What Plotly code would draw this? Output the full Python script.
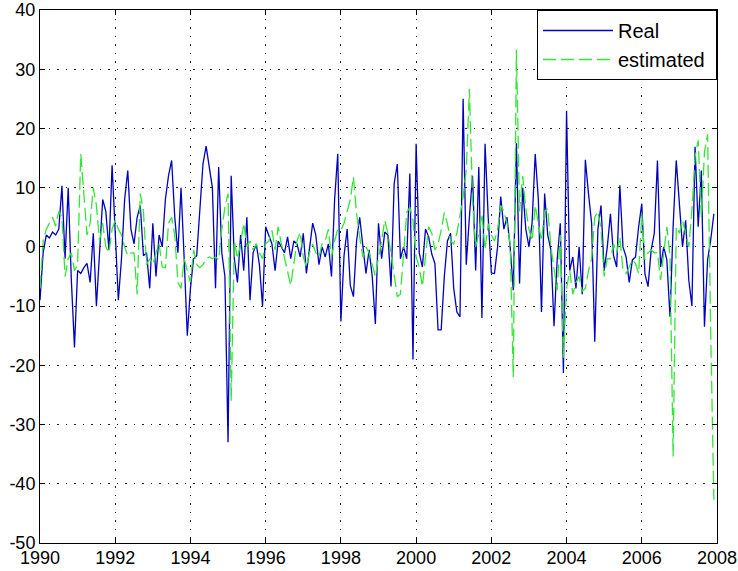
import numpy as np
import plotly.graph_objects as go

# Monthly observations, one row per year (Jan..Dec), 1990-2007
real_by_year = [
    [-9, -1, 2, 1.5, 2.5, 2, 3, 10.3, -2, 10, -5.6, -17],            # 1990
    [-4, -4.5, -3.5, -2.8, -6, 2.3, -10, 0, 8, 6, -0.5, 13.8],       # 1991
    [2, -9, -2, 8, 12.9, 3, 0.5, 5, 7, -1.5, -1, -7],                # 1992
    [4, -5, 2, 0, 8, 12, 14.6, 5, -1, 10, -2, -15],                  # 1993
    [-7, -2, -1.5, 7, 14, 17, 13.5, 10, -7, 13.5, -1, -5],           # 1994
    [-33, 12, -2, -6, 2, -4, 5, -9, -1, 0.5, -3, -10],               # 1995
    [3.4, 2, 0.5, -4, 1, 0, -1, 1.7, -2, 1, 0.5, -1.7],              # 1996
    [2.3, -4.5, -0.2, 4, 2, -3, 0, -1.7, 0.5, -5, 8, 15.7],          # 1997
    [-12.6, -1.5, 3, -6.5, -8.4, 1, 5, 0, -4.5, -0.5, -5, -13],      # 1998
    [4, -2, 2.5, 2, -6.7, 10.7, 14, -2, 0, -2, 12.4, -19],           # 1999
    [17.4, -1, -3.4, 3, 1.7, -1.2, -2.8, -14, -14, -5, 1, 2.3],      # 2000
    [-7, -11, -11.8, 25, -3, 5, 12, -4, 13.5, -12, 17.4, 5],         # 2001
    [-4.4, -4.5, 0, 8.5, 3, 5, 0, -7.3, 17.5, -6.2, 10, 3],          # 2002
    [0, 4, 15.7, 8, -11, 9, 2, -0.5, -13.4, -2.2, 4, -21.3],         # 2003
    [23, -4, -1.7, -7, 0, -8, 14.7, 9, 4, -16, 3, 7],                # 2004
    [-4, 0, 5.6, -1.5, -3.4, 10.4, 0, -1.7, -6, -2.2, -1.7, 3.4],    # 2005
    [7.3, -4.5, -6.7, -0.5, 2.3, 14.6, -3.4, 0, -2.2, -11.8, 3.4, 14.6],  # 2006
    [6.7, 0, 4.5, -5.6, -10, 16.9, 3.4, 12.9, -13.5, -2.2, 1.2, 5.6],     # 2007
]

estimated_by_year = [
    [-7, 1, 3, 4, 5, 3.5, 6, 5, -5, -2, -1, -4],                     # 1990
    [-3, 15.7, 8, 2, 4, 10, 7, 1, 4, 0, -1, 3],                      # 1991
    [4.5, 3, 2, 0, -1.5, -1, -1, -8, 9, 6, -3, -2],                  # 1992
    [-3, -1, 0.5, -3.4, -3.5, 4, 5, 2, -6, -7, -2, -4],              # 1993
    [-6, -0.5, -3, -3.5, -3, -2, -1.7, -2, -1.7, -2.2, 3, 6.7],      # 1994
    [9, -26, 1, -2, 0.5, 4, 0, 1, -0.5, 0.5, -1, -2],                # 1995
    [0.5, 1, 2.8, -0.5, 3.4, 0.5, -1.7, -4, -6.5, -2.8, 1, 2.5],     # 1996
    [-1.7, -3.4, -1, 0.5, -1, -1.7, 0.5, 1, 3, -1.7, 1, 3],          # 1997
    [2.8, 4, 6, 8, 11.8, 5.6, 1.7, -1.7, 0, -1, -3, -5],             # 1998
    [-1.7, 1, 4.5, 2.3, -1.2, -4.5, -8.4, -8, -1, 5.8, 6.7, 4.5],    # 1999
    [-1.7, -3.4, -6.7, -1, 3.4, 2.3, -0.5, 0.5, 2.8, 5.8, 3.9, 1],   # 2000
    [0.5, 2.3, 5.6, 8.4, 13, 26.7, 8, 0, 2.3, 5.6, -0.5, 3.9],       # 2001
    [2, 1, 3, 7, 6, 4, 0.5, -22, 33.3, 6, 12, 6.5],                  # 2002
    [3, 1, 7, 4, 1, 6, 6.5, 0, -3.5, -7.3, 2, -18.7],                # 2003
    [-7, -4, -8, -6, -5, -7.5, -7, -4, -2, 5, 6, 3],                 # 2004
    [-5, -2, -2, 0.5, -1, 1.7, -4, -4.5, -3.4, -2.2, -2.8, -4.5],    # 2005
    [5.6, -2.2, -1, -0.5, -1, -1, -5.6, -1, 3.4, -1.5, -35.4, 3.4],  # 2006
    [2.3, 4.5, 2.3, 0, 6.2, 15.2, 18, 5, 16, 19, -14.6, -42.7],      # 2007
]

start_year = 1990
x_ticks = list(range(1990, 2009, 2))
y_ticks = list(range(-50, 41, 10))
y_tick_labels = [str(v) for v in y_ticks]  # plain hyphen minus

real = np.array(real_by_year, dtype=float).ravel()
estimated = np.array(estimated_by_year, dtype=float).ravel()
t = start_year + np.arange(real.size) / 12.0

font_family = "Liberation Sans, Arial, sans-serif"

fig = go.Figure()
fig.add_trace(go.Scatter(
    x=t, y=real, mode="lines", name="Real", legendgroup="a",
    line=dict(color="#0000c0", width=1.3),
))
fig.add_trace(go.Scatter(
    x=t, y=estimated, mode="lines", name="estimated\u00a0", legendgroup="b",
    line=dict(color="#33e633", width=1.3, dash="13px,5px"),
))

axis_common = dict(
    showline=True, linecolor="black", linewidth=1, mirror="ticks",
    ticks="inside", ticklen=5, tickcolor="black",
    showgrid=True, gridcolor="#222222", gridwidth=1, griddash="1.5px,7px",
    zeroline=False, automargin=False,
    tickfont=dict(family=font_family, size=18, color="black"),
)

fig.update_layout(
    width=738, height=571,
    margin=dict(l=40, r=21, t=10, b=28, autoexpand=False),
    paper_bgcolor="white", plot_bgcolor="white",
    font=dict(family=font_family, size=18, color="black"),
    xaxis=dict(range=[1990, 2008], tickvals=x_ticks, ticklabelstandoff=-2,
               **axis_common),
    yaxis=dict(range=[-50, 40], tickvals=y_ticks, ticktext=y_tick_labels,
               **axis_common),
    showlegend=True,
    legend=dict(
        x=1, y=1, xanchor="right", yanchor="top",
        bgcolor="white", bordercolor="black", borderwidth=1,
        font=dict(family=font_family, size=20, color="black"),
        itemwidth=70, tracegroupgap=0,
    ),
)

fig.write_html("out.html")
